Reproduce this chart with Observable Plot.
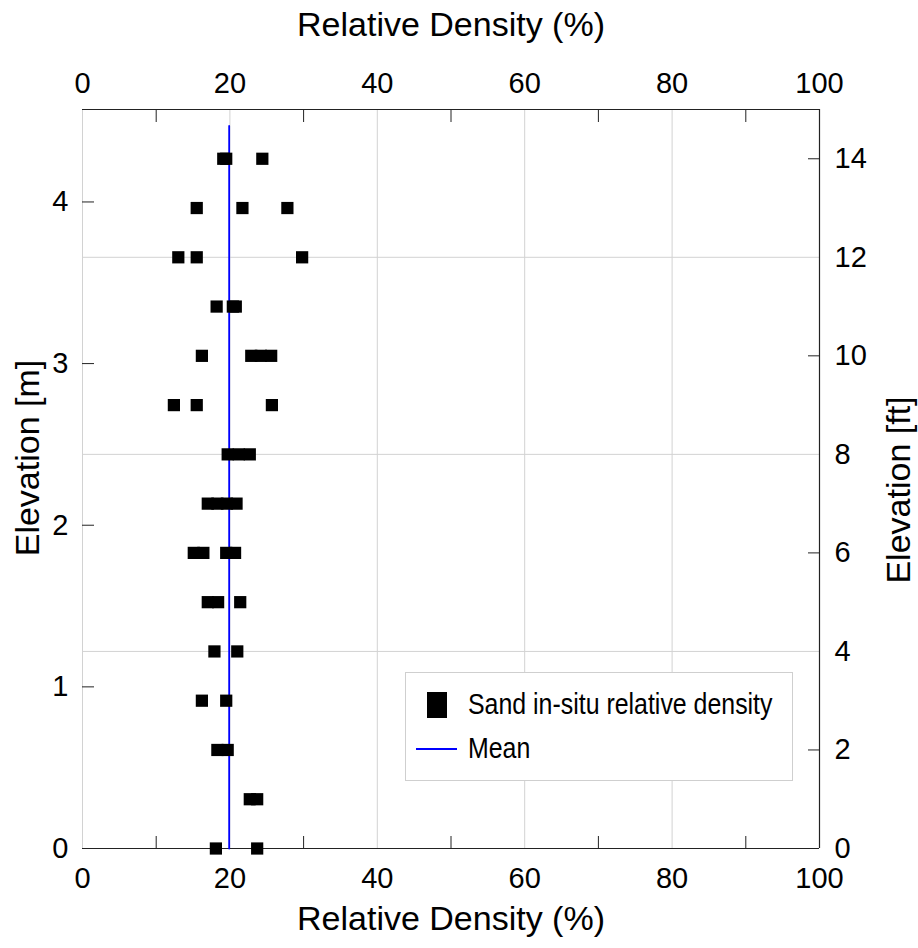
<!DOCTYPE html>
<html>
<head>
<meta charset="utf-8">
<script src="https://cdn.jsdelivr.net/npm/d3@7"></script>
<script src="https://cdn.jsdelivr.net/npm/@observablehq/plot@0.6"></script>
<style>
  html, body { margin: 0; padding: 0; background: #fff; }
  #wrap { position: relative; width: 918px; height: 948px; font-family: "Liberation Sans", Arial, sans-serif; }
  #legend { position: absolute; left: 405px; top: 672px; width: 388px; height: 109px; background: #fff; border: 1px solid #cfcfcf; box-sizing: border-box; }
  .lg-txt { position: absolute; left: 62px; font-size: 30px; transform: scaleX(0.83); transform-origin: left center; color: #000; line-height: 1; white-space: nowrap; }
  .ytitle { position: absolute; font-size: 34px; line-height: 1; white-space: nowrap; color: #000; transform: translate(-50%, -50%) rotate(-90deg); }
</style>
</head>
<body>
<div id="wrap"><div id="legend"></div></div>
<script>
// ---- data ----
const M_PER_FT = 0.3048;
// elevation of each measurement, in feet
const pointElevFt = [
  14, 14, 14,
  13, 13, 13,
  12, 12, 12,
  11, 11, 11,
  10, 10, 10, 10,
  9, 9, 9,
  8, 8, 8,
  7, 7, 7, 7,
  6, 6, 6, 6,
  5, 5, 5,
  4, 4,
  3, 3,
  2, 2,
  1, 1,
  0, 0
];
// relative density of each measurement, %
const pointDensity = [
  19.1, 19.5, 24.4,
  15.5, 21.7, 27.8,
  13.0, 15.5, 29.8,
  18.2, 20.4, 20.8,
  16.2, 22.9, 24.2, 25.6,
  12.4, 15.5, 25.7,
  19.7, 21.2, 22.7,
  17.0, 18.3, 19.6, 20.9,
  15.1, 16.4, 19.5, 20.7,
  17.0, 18.4, 21.4,
  17.9, 21.0,
  16.2, 19.5,
  18.3, 19.7,
  22.7, 23.7,
  18.1, 23.7
];
const meanDensity = 19.9;
const meanElevM = [0, 4.47];

const xLabelTicks = [0, 20, 40, 60, 80, 100];
const xMinorTicks = [10, 30, 50, 70, 90];
const yMeterTicks = [0, 1, 2, 3, 4];
const yFtLabelTicks = [0, 2, 4, 6, 8, 10, 12, 14];
const yFtMinorTicks = [2, 6, 10, 14];
const yFtGrid = [4, 8, 12];
const yMaxFt = 15;

const xTitle = "Relative Density (%)";
const yLeftTitle = "Elevation [m]";
const yRightTitle = "Elevation [ft]";
const legendItems = ["Sand in-situ relative density", "Mean"];

// ---- build tables ----
const points = pointDensity.map((d, i) => ({x: d, y: pointElevFt[i] * M_PER_FT}));
const meanLine = meanElevM.map(y => ({x: meanDensity, y}));
const toM = f => f * M_PER_FT;
const yMax = toM(yMaxFt);

const dark = "#222";
const gridColor = "#d2d2d2";
const tickFont = 29;

const chart = Plot.plot({
  width: 918,
  height: 948,
  marginLeft: 82,
  marginRight: 99,
  marginTop: 109,
  marginBottom: 100,
  style: {fontFamily: "'Liberation Sans', Arial, sans-serif", color: "#000", background: "#fff"},
  x: {domain: [0, 100]},
  y: {domain: [0, yMax]},
  marks: [
    Plot.gridX(xLabelTicks, {stroke: gridColor, strokeOpacity: 1}),
    Plot.gridY(yFtGrid.map(toM), {stroke: gridColor, strokeOpacity: 1}),
    Plot.ruleY([0, yMax], {stroke: dark, strokeWidth: 1.2}),
    Plot.ruleX([100], {stroke: dark, strokeWidth: 1.2}),
    // inward minor ticks
    Plot.axisX({anchor: "bottom", ticks: xMinorTicks, tickSize: -12, fill: "none", stroke: dark, label: null}),
    Plot.axisX({anchor: "top", ticks: xMinorTicks, tickSize: -12, fill: "none", stroke: dark, label: null}),
    Plot.axisY({anchor: "left", ticks: yMeterTicks, tickSize: -12, fill: "none", stroke: dark, label: null}),
    Plot.axisY({anchor: "right", ticks: yFtMinorTicks.map(toM), tickSize: -12, fill: "none", stroke: dark, label: null}),
    // tick labels
    Plot.axisX({anchor: "bottom", ticks: xLabelTicks, tickSize: 0, tickPadding: 19, fontSize: tickFont, label: null, tickFormat: d => String(d)}),
    Plot.axisX({anchor: "top", ticks: xLabelTicks, tickSize: 0, tickPadding: 17, fontSize: tickFont, label: null, tickFormat: d => String(d)}),
    Plot.axisY({anchor: "left", ticks: yMeterTicks, tickSize: 0, tickPadding: 14, fontSize: tickFont, label: null, tickFormat: d => String(d)}),
    Plot.axisY({anchor: "right", ticks: yFtLabelTicks.map(toM), tickSize: 0, tickPadding: 15, fontSize: tickFont, label: null, tickFormat: d => String(Math.round(d / M_PER_FT))}),
    // horizontal axis titles
    Plot.text([xTitle], {text: d => d, frameAnchor: "top", dy: -98, fontSize: 34}),
    Plot.text([xTitle], {text: d => d, frameAnchor: "bottom", dy: 81, fontSize: 34}),
    // data
    Plot.line(meanLine, {x: "x", y: "y", stroke: "#0000ff", strokeWidth: 1.8}),
    Plot.dot(points, {x: "x", y: "y", symbol: "square", r: 6.9, fill: "#000", stroke: "none"})
  ]
});
const wrap = document.getElementById("wrap");
wrap.prepend(chart);

// vertical axis titles
function addYTitle(text, cx, cy) {
  const el = document.createElement("div");
  el.className = "ytitle";
  el.textContent = text;
  el.style.left = cx + "px";
  el.style.top = cy + "px";
  wrap.appendChild(el);
}
addYTitle(yLeftTitle, 27, 458);
addYTitle(yRightTitle, 898, 490);

// legend
const lg = document.getElementById("legend");
lg.innerHTML = `
  <div style="position:absolute;left:21px;top:19px;width:20px;height:26px;background:#000"></div>
  <div class="lg-txt" style="top:16px">${legendItems[0]}</div>
  <div style="position:absolute;left:10px;top:75px;width:41px;height:2px;background:#0000ff"></div>
  <div class="lg-txt" style="top:60px">${legendItems[1]}</div>
`;
</script>
</body>
</html>
